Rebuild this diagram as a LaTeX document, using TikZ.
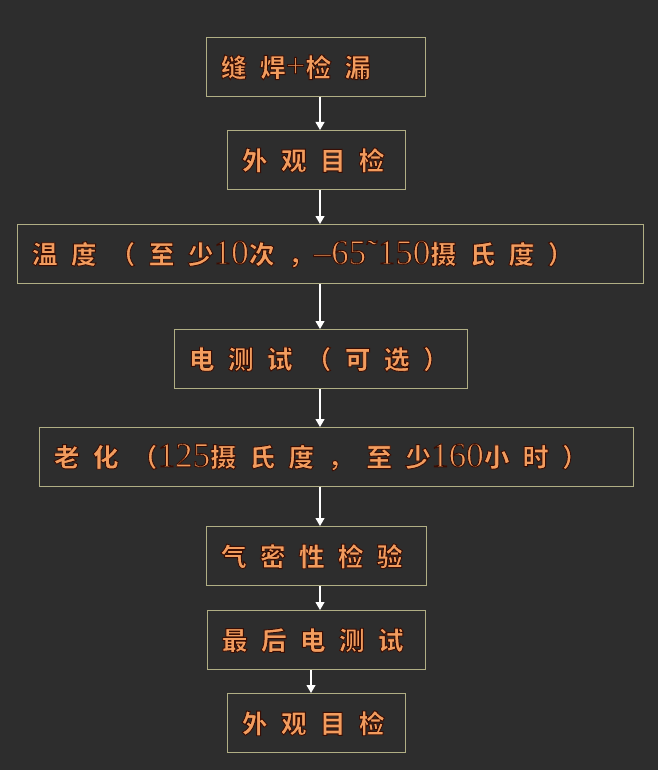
\documentclass[tikz,border=0pt]{standalone}
\usepackage{fontspec}
\usetikzlibrary{arrows.meta}
\newfontfamily\cjk{Noto Sans CJK SC Black}[LetterSpace=50]
\newfontfamily\numfont{Liberation Serif}
\definecolor{bgdark}{HTML}{2D2D2D}
\definecolor{boxline}{HTML}{B0AE84}
\definecolor{ember}{HTML}{F29C5E}
% dark rim round the glyphs (fill and stroke text)
\newcommand{\glow}[1]{\special{pdf:literal direct 2 Tr 0.9 w 0.22 0.05 0.01 RG}#1\special{pdf:literal direct 0 Tr}}
\newcommand{\digits}[1]{{\numfont\fontsize{35pt}{35pt}\selectfont #1}}

\begin{document}
\begin{tikzpicture}[x=1pt, y=-1pt,
    stepbox/.style={draw=boxline, line width=1.4pt, anchor=north west,
        minimum height=59pt, inner xsep=14pt, inner ysep=0pt,
        text width=#1-28pt, align=left, text=ember,
        font=\cjk\fontsize{26pt}{30pt}\selectfont},
    flow/.style={draw=white, line width=1.1pt, -{Triangle[width=9pt,length=8pt]}}]
    % background and page size
    \fill[bgdark] (0,0) rectangle (658,770);
    \useasboundingbox (0,0) rectangle (658,770);
    \coordinate (spine) at (320,0);
    \coordinate (spinelow) at (311,0);

    % process steps
    \node[stepbox=219pt] (weld) at (206,37) {\glow{缝焊\digits{+}检漏}};
    \node[stepbox=178pt] (look) at (227,130) {\glow{外观目检}};
    \node[stepbox=626pt] (cycle) at (17,224) {\glow{温度（至少\digits{10}次，\digits{–65˜150}摄氏度）}};
    \node[stepbox=293pt] (elec) at (174,329) {\glow{电测试（可选）}};
    \node[stepbox=594pt] (burn) at (39,427) {\glow{老化（\digits{125}摄氏度，至少\digits{160}小时）}};
    \node[stepbox=220pt] (leak) at (206,526) {\glow{气密性检验}};
    \node[stepbox=218pt] (final) at (207,610) {\glow{最后电测试}};
    \node[stepbox=178pt] (lookend) at (227,693) {\glow{外观目检}};

    % connectors
    \draw[flow] (weld.south -| spine) -- (look.north -| spine);
    \draw[flow] (look.south -| spine) -- (cycle.north -| spine);
    \draw[flow] (cycle.south -| spine) -- (elec.north -| spine);
    \draw[flow] (elec.south -| spine) -- (burn.north -| spine);
    \draw[flow] (burn.south -| spine) -- (leak.north -| spine);
    \draw[flow] (leak.south -| spine) -- (final.north -| spine);
    \draw[flow] (final.south -| spinelow) -- (lookend.north -| spinelow);
\end{tikzpicture}
\end{document}
